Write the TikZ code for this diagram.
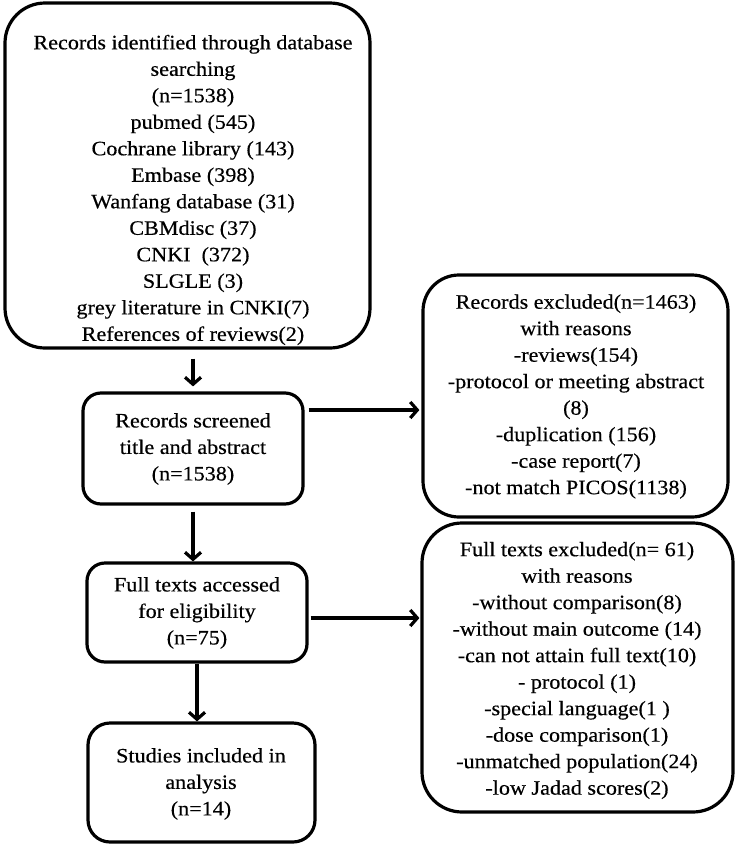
\documentclass[tikz,border=0pt]{standalone}
\usepackage{fontspec}
\setmainfont{Liberation Serif}[FakeStretch=1.08,FakeBold=0.4]
\usetikzlibrary{arrows.meta}
\begin{document}
\begin{tikzpicture}[x=1pt,y=-1pt,
  box/.style={draw=black,line width=3.2pt,inner sep=0pt},
  txt/.style={align=center,font=\fontsize{20.5pt}{26.5pt}\selectfont,inner sep=0pt},
  arr/.style={line width=3.2pt,-{Straight Barb[length=7pt,width=16pt,line width=3.2pt]}}]
\useasboundingbox (0,0) rectangle (736,847);
% boxes
\node[box,rounded corners=40pt,minimum width=365pt,minimum height=345pt] (b1) at (187.5,175.5) {};
\node[box,rounded corners=18pt,minimum width=220pt,minimum height=111pt] (b2) at (193,448.5) {};
\node[box,rounded corners=18pt,minimum width=220pt,minimum height=99pt] (b3) at (197,612.5) {};
\node[box,rounded corners=22pt,minimum width=227pt,minimum height=119pt] (b4) at (201.5,782.5) {};
\node[box,rounded corners=36pt,minimum width=305pt,minimum height=242pt] (bA) at (575.5,396) {};
\node[box,rounded corners=40pt,minimum width=311pt,minimum height=289pt] (bB) at (577.5,667.5) {};
% texts
\node[txt] (t1) at (193,190) {Records identified through database\\searching\\(n=1538)\\pubmed (545)\\Cochrane library (143)\\Embase (398)\\Wanfang database (31)\\CBMdisc (37)\\CNKI~~(372)\\SLGLE (3)\\grey literature in CNKI(7)\\References of reviews(2)};
\node[txt] (t2) at (193,449) {Records screened\\title and abstract\\(n=1538)};
\node[txt] (t3) at (197,613) {Full texts accessed\\for eligibility\\(n=75)};
\node[txt] (t4) at (201,784) {Studies included in\\analysis\\(n=14)};
\node[txt] (tA) at (576,396.5) {Records excluded(n=1463)\\with reasons\\-reviews(154)\\-protocol or meeting abstract\\(8)\\-duplication (156)\\-case report(7)\\-not match PICOS(1138)};
\node[txt] (tB) at (577,670.5) {Full texts excluded(n= 61)\\with reasons\\-without comparison(8)\\-without main outcome (14)\\-can not attain full text(10)\\- protocol (1)\\-special language(1 )\\-dose comparison(1)\\-unmatched population(24)\\-low Jadad scores(2)};
% arrows
\draw[arr] ([xshift=5.5pt,yshift=-9pt]b1.south) -- ([yshift=5pt]b2.north);
\draw[arr,shorten <=6pt] (b2.south) -- (b2.south |- b3.north);
\draw[arr] (b3.south) -- (b3.south |- b4.north);
\draw[arr] ([xshift=4pt,yshift=38.5pt]b2.east) -- ([xshift=-2pt]b2.east |- 0,410 -| bA.west);
\draw[arr] ([xshift=2pt,yshift=-5.5pt]b3.east) -- ([xshift=-1pt,yshift=-5.5pt]b3.east -| bB.west);
\end{tikzpicture}
\end{document}
